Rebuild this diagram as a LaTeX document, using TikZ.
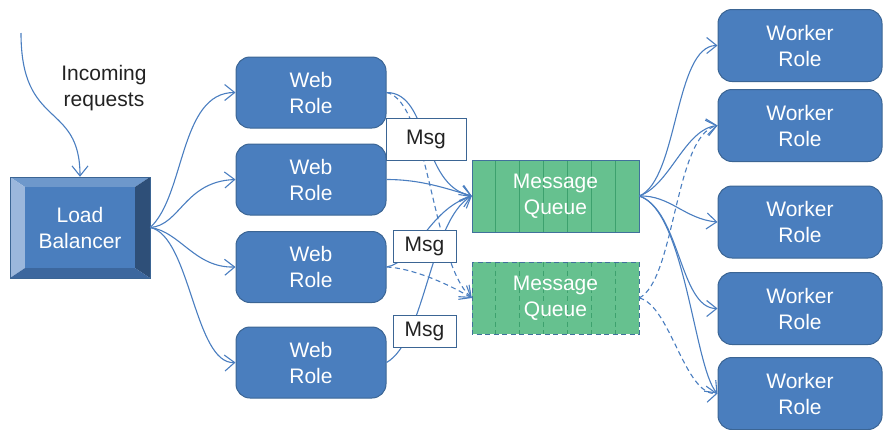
\documentclass[tikz,border=0pt]{standalone}
\usepackage{fontspec}
\setmainfont{Liberation Sans}
\usetikzlibrary{arrows.meta,calc}
\definecolor{rolefill}{HTML}{4A7EBE}
\definecolor{roleedge}{HTML}{3B6594}
\definecolor{linec}{HTML}{4A7EC0}
\definecolor{qfill}{HTML}{66C18F}
\definecolor{qstripe}{HTML}{3DA16E}
\definecolor{qedge}{HTML}{41719C}
\definecolor{lbtop}{HTML}{6E98CB}
\definecolor{lbleft}{HTML}{9BB7DC}
\definecolor{lbright}{HTML}{2E4F78}
\definecolor{lbbottom}{HTML}{3C679E}
\definecolor{txt}{HTML}{222222}
\begin{document}
\begin{tikzpicture}[x=1pt,y=-1pt,
  lbl/.style={font=\fontsize{21}{26}\selectfont, align=center},
  role/.style={lbl, draw=roleedge, fill=rolefill, text=white, rounded corners=14pt, line width=1pt, minimum width=150pt, minimum height=71pt, inner sep=0pt},
  worker/.style={role, minimum width=164pt, minimum height=72pt},
  msgbox/.style={lbl, draw=roleedge, fill=white, text=txt, line width=1pt, inner sep=0pt},
  plain/.style={lbl, text=white, inner sep=0pt},
  conn/.style={draw=linec, line width=1.1pt, -{Straight Barb[length=10pt,width=16pt]}},
  dconn/.style={conn, dash pattern=on 5pt off 3.5pt},
  dline/.style={draw=linec, line width=1.1pt, dash pattern=on 5pt off 3.5pt},
]
\useasboundingbox (0,0) rectangle (883,429);

% Load balancer (bevelled box)
\fill[lbtop] (10,177) -- (150,177) -- (135,187) -- (25,187) -- cycle;
\fill[lbleft] (10,177) -- (25,187) -- (25,268) -- (10,278) -- cycle;
\fill[lbright] (150,177) -- (150,278) -- (135,268) -- (135,187) -- cycle;
\fill[lbbottom] (10,278) -- (25,268) -- (135,268) -- (150,278) -- cycle;
\fill[rolefill] (25,187) rectangle (135,268);
\draw[roleedge, line width=1pt] (10,177) rectangle (150,278);
\node[plain, minimum width=140pt, minimum height=101pt] (lb) at (80,227.5) {Load\\Balancer};

% incoming
\coordinate (src) at (21,33);
\node[lbl, text=txt] (inc) at (104,88) {Incoming\\requests};

% web roles
\node[role] (w1) at (311,92.5) {Web\\Role};
\node[role] (w2) at (311,179.5) {Web\\Role};
\node[role] (w3) at (311,267) {Web\\Role};
\node[role] (w4) at (311,362.5) {Web\\Role};

% worker roles
\node[worker] (k1) at (800,45.5) {Worker\\Role};
\node[worker] (k2) at (800,125.5) {Worker\\Role};
\node[worker] (k3) at (800,222) {Worker\\Role};
\node[worker] (k4) at (800,308.5) {Worker\\Role};
\node[worker] (k5) at (800,393.5) {Worker\\Role};

% queues
\fill[qfill] (472,160) rectangle (639,232);
\foreach \i in {1,...,6}
  \draw[qstripe, line width=1pt] ({472+\i*167/7},160) -- ({472+\i*167/7},232);
\draw[qedge, line width=1pt] (472,160) rectangle (639,232);
\node[plain, minimum width=167pt, minimum height=72pt] (q1) at (555.5,196) {Message\\Queue};

\fill[qfill] (472,262) rectangle (639,334);
\foreach \i in {1,...,6}
  \draw[qstripe, line width=1pt, dash pattern=on 5pt off 3.5pt] ({472+\i*167/7},262) -- ({472+\i*167/7},334);
\draw[qedge, line width=1pt, dash pattern=on 5pt off 3.5pt] (472,262) rectangle (639,334);
\node[plain, minimum width=167pt, minimum height=72pt] (q2) at (555.5,298) {Message\\Queue};

% connectors
\draw[conn] (src) .. controls +(0,97) and +(0,-76) .. (lb.north);
\draw[conn] (lb.east) .. controls +(35,-32) and +(-56,0) .. (w1.west);
\draw[conn] (lb.east) .. controls +(30,-2) and +(-51,2) .. (w2.west);
\draw[conn] (lb.east) .. controls +(30,4) and +(-41,1) .. (w3.west);
\draw[conn] (lb.east) .. controls +(40,8) and +(-41,2) .. (w4.west);

\draw[conn] (w1.east) .. controls +(44,0) and +(-52,-11) .. (q1.west);
\draw[dconn] (w1.east) .. controls +(42,8) and +(-40,-36) .. (q2.west);
\draw[conn] (w2.east) .. controls +(34,0) and +(-27,-8) .. (q1.west);
\draw[conn] (w3.east) .. controls +(29,-5) and +(-44,14) .. (q1.west);
\draw[dconn] (w3.east) .. controls +(24,1) and +(-27,-16) .. (q2.west);
\draw[conn] (w4.east) .. controls +(39,-22) and +(-42,24) .. (q1.west);

\draw[conn] (q1.east) .. controls +(39,-16) and +(-43,0) .. (k1.west);
\draw[conn] (q1.east) .. controls +(31,-11) and +(-33,4) .. (k2.west);
\draw[conn] (q1.east) .. controls +(31,-1) and +(-33,-3) .. (k3.west);
\draw[conn] (q1.east) .. controls +(41,14) and +(-38,0) .. (k4.west);
\draw[conn] (q1.east) .. controls +(46,14) and +(-23,-24) .. (k5.west);
\draw[dconn] (q2.east) .. controls +(36,-18) and +(-43,10) .. (k2.west);
\draw[dconn] (q2.east) .. controls +(31,7) and +(-33,2) .. (k5.west);

% message boxes (on top of connectors)
\node[msgbox, minimum width=80pt, minimum height=42pt] (m1) at (426,139) {Msg};
\node[msgbox, minimum width=63pt, minimum height=32pt] (m2) at (424.5,246) {Msg};
\node[msgbox, minimum width=63pt, minimum height=32pt] (m3) at (424.5,331) {Msg};
\end{tikzpicture}
\end{document}
